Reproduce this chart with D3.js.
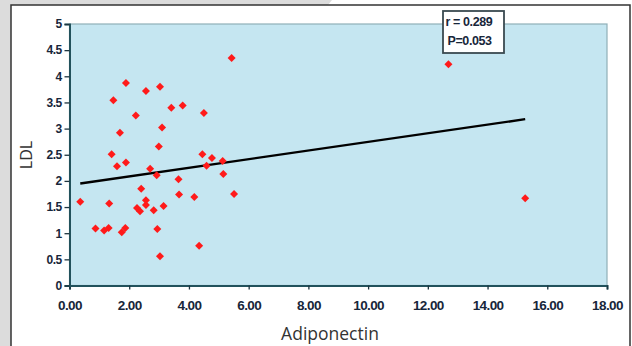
<!DOCTYPE html>
<html><head><meta charset="utf-8">
<script src="https://cdn.jsdelivr.net/npm/d3@7"></script>
<style>html,body{margin:0;padding:0;background:#fff;}svg{display:block;}</style>
</head><body>
<svg id="c" width="632" height="346"></svg>
<script>
const adiponectin = [0.36,0.87,1.16,1.31,1.33,1.41,1.47,1.59,1.69,1.75,1.87,1.89,1.89,2.22,2.26,2.36,2.40,2.56,2.56,2.56,2.70,2.82,2.92,2.94,2.99,3.03,3.03,3.10,3.15,3.41,3.65,3.67,3.79,4.18,4.34,4.45,4.50,4.59,4.77,5.13,5.15,5.43,5.51,12.69,15.26];
const ldl = [1.60,1.09,1.05,1.10,1.57,2.51,3.54,2.28,2.92,1.02,1.10,2.35,3.87,3.25,1.48,1.42,1.85,1.63,1.54,3.72,2.23,1.44,2.11,1.08,2.66,0.56,3.80,3.02,1.52,3.40,2.03,1.74,3.44,1.69,0.76,2.51,3.30,2.29,2.44,2.38,2.13,4.35,1.75,4.23,1.67];
const trendX = [0.36, 15.26];
const trendY = [1.95, 3.18];
const xTicks = [0,2,4,6,8,10,12,14,16,18];
const yTicks = [0,0.5,1,1.5,2,2.5,3,3.5,4,4.5,5];
const statLines = ["r = 0.289", "P=0.053"];

const svg = d3.select("#c");
// frame
svg.append("rect").attr("x",0).attr("y",0).attr("width",632).attr("height",346).attr("fill","#fff");
svg.append("rect").attr("x",0).attr("y",0).attr("width",11).attr("height",346).attr("fill","#dcdcdc");
svg.append("path").attr("d","M0,0 L332,0 L328,5 L0,5 Z").attr("fill","#dcdcdc");
svg.append("path").attr("d","M11,352 L11,5 L630,5 L630,352").attr("fill","none").attr("stroke","#333").attr("stroke-width",1.5);

const x = d3.scaleLinear().domain([0,18]).range([69.5,607]);
const y = d3.scaleLinear().domain([0,5]).range([285.5,24]);

// plot area
svg.append("rect").attr("x",x(0)).attr("y",y(5)).attr("width",x(18)-x(0)).attr("height",y(0)-y(5))
  .attr("fill","#c5e6f1").attr("stroke","#8fb0b8").attr("stroke-width",1.2);

// axes
const xa = svg.append("g").attr("transform",`translate(0,${y(0)})`)
  .call(d3.axisBottom(x).tickValues(xTicks).tickSize(4).tickFormat(d3.format(".2f")));
const ya = svg.append("g").attr("transform",`translate(${x(0)},0)`)
  .call(d3.axisLeft(y).tickValues(yTicks).tickSize(5).tickFormat(d=>d));
[xa,ya].forEach(g=>{
  g.select(".domain").attr("stroke","#22525c").attr("stroke-width",2);
  g.selectAll(".tick line").attr("stroke","#1d3540").attr("stroke-width",1.3);
  g.selectAll("text").attr("font-family","Liberation Sans, Arial, sans-serif").attr("font-weight","bold")
    .attr("fill","#17263a").attr("letter-spacing","-0.6px");
});
xa.selectAll("text").attr("font-size","13.5px").attr("dy","1.3em");
ya.selectAll("text").attr("font-size","12px").attr("x",-8);

// trendline
svg.append("line").attr("x1",x(trendX[0])).attr("y1",y(trendY[0])).attr("x2",x(trendX[1])).attr("y2",y(trendY[1]))
  .attr("stroke","#000").attr("stroke-width",2.4);

// points
const pts = adiponectin.map((v,i)=>[v,ldl[i]]);
svg.append("g").selectAll("path").data(pts).join("path")
  .attr("transform",d=>`translate(${x(d[0])},${y(d[1])})`)
  .attr("d","M0,-4 L4,0 L0,4 L-4,0 Z").attr("fill","#ff1a1a");

// annotation box
svg.append("rect").attr("x",443).attr("y",11).attr("width",61).attr("height",42)
  .attr("fill","#fff").attr("stroke","#3a4a50").attr("stroke-width",1.8);
svg.append("g").selectAll("text").data(statLines).join("text")
  .attr("x",(d,i)=>i===0?445.5:447.5).attr("y",(d,i)=>26+i*19)
  .attr("font-family","Liberation Sans, Arial, sans-serif").attr("font-weight","bold").attr("font-size","12.5px")
  .attr("letter-spacing","-0.4px").attr("fill","#17263a").text(d=>d);

// titles
svg.append("text").attr("x",330).attr("y",340).attr("text-anchor","middle")
  .attr("font-family","Open Sans, sans-serif").attr("font-size","17.5px").attr("fill","#333").text("Adiponectin");
svg.append("text").attr("transform","translate(32,155) rotate(-90)").attr("text-anchor","middle")
  .attr("font-family","Open Sans, sans-serif").attr("font-size","16px").attr("fill","#333").text("LDL");
</script>
</body></html>
